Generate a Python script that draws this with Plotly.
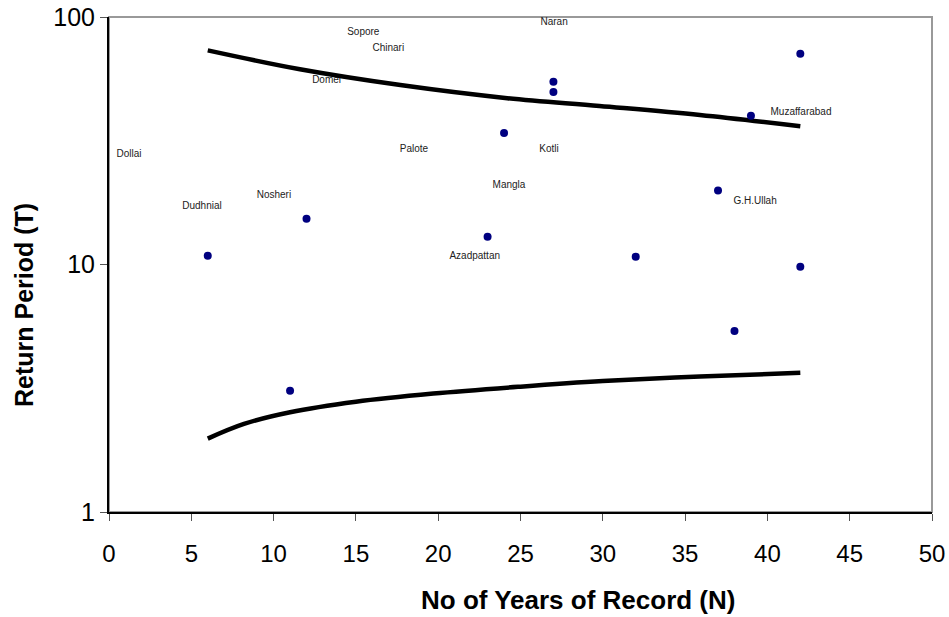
import plotly.graph_objects as go

# Observed stations: record length N and return period T
obs_n = [6, 11, 12, 23, 24, 27, 27, 32, 37, 38, 39, 42, 42]
obs_t = [10.85, 3.09, 15.3, 12.95, 34.0, 54.8, 49.8, 10.75, 19.9, 5.39, 39.9, 71.0, 9.8]

# Upper and lower confidence curves
upper_n = [6, 11.6, 17.7, 24.2, 29.8, 35.9, 42]
upper_t = [73.3, 61.5, 53.1, 47.0, 43.7, 40.2, 36.2]
lower_n = [6, 8.2, 11, 15, 19.7, 25, 30, 35.9, 42]
lower_t = [1.98, 2.27, 2.53, 2.79, 3.01, 3.21, 3.38, 3.53, 3.65]

# Station name labels
label_text = ["Sopore", "Chinari", "Domel", "Dollai", "Palote", "Nosheri", "Dudhnial",
              "Azadpattan", "Naran", "Kotli", "Mangla", "Muzaffarabad", "G.H.Ullah"]
label_n = [15.45, 16.97, 13.22, 1.22, 18.53, 10.02, 5.65, 22.22, 27.04, 26.73, 24.3, 42.04, 39.25]
label_t = [86.4, 74.7, 55.6, 27.9, 29.1, 19.0, 17.1, 10.75, 94.8, 29.2, 20.8, 41.1, 18.0]

x_ticks = [0, 5, 10, 15, 20, 25, 30, 35, 40, 45, 50]
y_ticks = [1, 10, 100]
y_ticktext = ["1", "10", "100"]

FONT = "Liberation Sans, Arial, sans-serif"

fig = go.Figure()
fig.add_trace(go.Scatter(x=label_n, y=label_t, mode="text", text=label_text,
                         textposition="middle center",
                         textfont=dict(family=FONT, size=10, color="#222222"),
                         showlegend=False))
fig.add_trace(go.Scatter(x=upper_n, y=upper_t, mode="lines",
                         line=dict(color="black", width=4.5, shape="spline"),
                         hoverinfo="skip", showlegend=False))
fig.add_trace(go.Scatter(x=lower_n, y=lower_t, mode="lines",
                         line=dict(color="black", width=4.5, shape="spline"),
                         hoverinfo="skip", showlegend=False))
fig.add_trace(go.Scatter(x=obs_n, y=obs_t, mode="markers",
                         marker=dict(color="#000080", size=8),
                         showlegend=False))

L, R, T, B = 109, 17, 17, 105
W, H = 949, 617
pw = W - L - R
ph = H - T - B

fig.update_layout(
    width=W, height=H,
    margin=dict(l=L, r=R, t=T, b=B),
    paper_bgcolor="white", plot_bgcolor="white",
    font=dict(family=FONT, color="black"),
    showlegend=False,
    xaxis=dict(range=[0, 50], tickvals=x_ticks, showgrid=False, zeroline=False,
               showline=True, linecolor="black", linewidth=2, automargin=False,
               ticks="outside", ticklen=7, tickcolor="#555555", tickwidth=1,
               tickfont=dict(size=24, family=FONT), ticklabelstandoff=12),
    yaxis=dict(type="log", range=[0, 2], tickvals=y_ticks, ticktext=y_ticktext,
               showgrid=False, zeroline=False, automargin=False,
               showline=True, linecolor="black", linewidth=2,
               ticks="outside", ticklen=7, tickcolor="#555555", tickwidth=1,
               tickfont=dict(size=25, family=FONT), ticklabelstandoff=0),
    shapes=[dict(type="rect", xref="paper", yref="paper", x0=0, y0=0, x1=1, y1=1,
                 line=dict(color="#999999", width=2), layer="below")],
    annotations=[
        dict(text="<b>No of Years of Record (N)</b>", xref="paper", yref="paper",
             x=(578 - L) / pw, y=(H - B - 600) / ph, xanchor="center", yanchor="middle",
             showarrow=False, font=dict(size=26, family=FONT)),
        dict(text="<b>Return Period (T)</b>", xref="paper", yref="paper",
             x=(24 - L) / pw, y=(H - B - 305) / ph, xanchor="center", yanchor="middle",
             showarrow=False, textangle=-90, font=dict(size=25, family=FONT)),
    ],
)

fig.write_html("out.html", config={"displayModeBar": False},
               post_script="document.body.style.margin='0';document.body.style.overflow='hidden';")
